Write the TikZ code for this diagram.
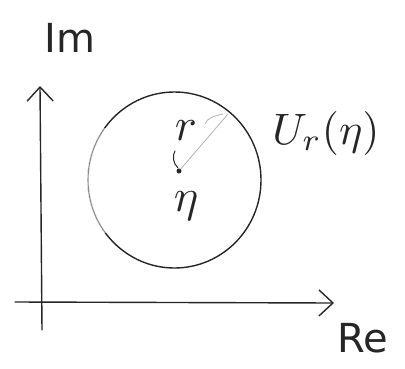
\documentclass[tikz,border=0pt]{standalone}
\usepackage{fontspec}
\setmainfont{DejaVu Sans}
\usetikzlibrary{arrows.meta}
\begin{document}
\begin{tikzpicture}[x=1pt,y=-1pt,
  pen/.style={line width=1.4pt, color=black!85, line cap=round, line join=round},
  thinpen/.style={line width=0.8pt, color=black!30, line cap=round},
  axis/.style={pen, -{Straight Barb[length=14pt,width=26pt,line width=1.4pt]}},
  lbl/.style={inner sep=0pt, text=black!85}]
\useasboundingbox (0,0) rectangle (405,368);
% axes
\coordinate (ybot) at (42,330);
\coordinate (ytop) at (40,86);
\coordinate (xl) at (15,302);
\coordinate (xr) at (334,303);
\draw[axis] (ybot) -- (ytop);
\draw[axis] (xl) -- (xr);
\node[lbl, font=\fontsize{40}{40}\selectfont] (im) at (70,38) {Im};
\node[lbl, font=\fontsize{40}{40}\selectfont] (re) at (363,338) {Re};
% disc
\coordinate (dc) at (174.5,180);
\draw[pen] (dc) ellipse [x radius=86.5, y radius=88];
\begin{scope}
  \clip (0,128) rectangle (118,232);
  \draw[line width=2.2pt, white] (dc) ellipse [x radius=86.5, y radius=88];
  \draw[line width=1.1pt, black!45] (dc) ellipse [x radius=86.5, y radius=88];
\end{scope}
% centre and radius
\node[circle, fill=black!85, inner sep=0pt, minimum size=5pt] (eta) at (179,171) {};
\coordinate (edge) at (228,114);
\draw[thinpen] (eta) -- (edge);
\draw[thinpen] (205,124) .. controls (207,118) and (214,116) .. (223,114);
\draw[pen, line width=1pt] (175,151) .. controls (172,156) and (173,163) .. (178,168);
\node[lbl, scale=4.6] (r) at (186,131) {$r$};
\node[lbl, scale=4.6] (etal) at (186,206) {$\eta$};
\node[lbl, scale=4.4] (U) at (326,133) {$U_r(\eta)$};
\end{tikzpicture}
\end{document}
